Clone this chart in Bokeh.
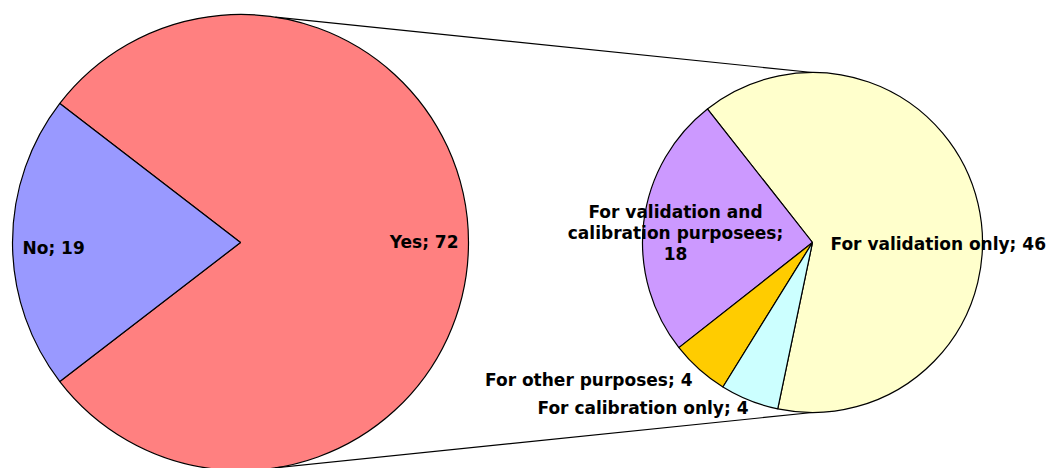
import math
from bokeh.plotting import figure
from bokeh.models import Range1d
from bokeh.core.properties import value
from bokeh.embed import file_html
from bokeh.resources import INLINE

# ---- data ----
main_categories = ["Yes", "No"]
main_values = [72, 19]
main_colors = ["#FF8080", "#9999FF"]

sub_categories = ["For validation only", "For validation and\ncalibration purposees",
                  "For other purposes", "For calibration only"]
sub_values = [46, 18, 4, 4]
sub_colors = ["#FFFFCC", "#CC99FF", "#FFCC00", "#CCFFFF"]

# ---- layout (screen pixels of the 1049x468 window) ----
W, H = 1049, 468
def Y(sy):
    return H - sy

L_CX, L_CY, L_R = 240, 242, 228
R_CX, R_CY, R_R = 812, 242, 170
R_START = math.radians(-101.8)
FONT = value("DejaVu Sans")
FS = "17px"

p = figure(width=W, height=H, x_range=Range1d(0, W), y_range=Range1d(0, H),
           output_backend="svg", toolbar_location=None, min_border=0)
p.axis.visible = False
p.grid.visible = False
p.outline_line_color = None
p.background_fill_color = "white"

# ---- left pie: "No" centred on the left ----
total = sum(main_values)
no_ang = main_values[1] / total * 2 * math.pi
no_start = math.pi - no_ang / 2
no_end = math.pi + no_ang / 2
p.wedge(x=[L_CX], y=[Y(L_CY)], radius=L_R, start_angle=[no_end],
        end_angle=[no_start + 2 * math.pi], direction="anticlock",
        fill_color=main_colors[0], line_color="black", line_width=1.2)
p.wedge(x=[L_CX], y=[Y(L_CY)], radius=L_R, start_angle=[no_start],
        end_angle=[no_end], direction="anticlock",
        fill_color=main_colors[1], line_color="black", line_width=1.2)

# ---- right pie ----
sub_total = sum(sub_values)
starts, ends = [], []
a = R_START
for v in sub_values:
    starts.append(a)
    a += v / sub_total * 2 * math.pi
    ends.append(a)
p.wedge(x=[R_CX] * 4, y=[Y(R_CY)] * 4, radius=R_R, start_angle=starts, end_angle=ends,
        direction="anticlock", fill_color=sub_colors, line_color="black", line_width=1.2)

# ---- connector lines ----
t = math.radians(81.2)
lx, ly = L_CX + L_R * math.cos(t), L_CY - L_R * math.sin(t)
p.line(x=[lx, R_CX], y=[Y(ly), Y(R_CY - R_R)], line_color="black", line_width=1.2)
p.line(x=[lx, R_CX], y=[Y(2 * L_CY - ly), Y(R_CY + R_R)], line_color="black", line_width=1.2)

# ---- labels ----
def lab(x, y, txt, align):
    p.text(x=[x], y=[Y(y)], text=[txt], text_font=FONT, text_font_style="bold",
           text_font_size=FS, text_align=align, text_baseline="middle",
           text_color="black", text_line_height=1.05)

lab(458, 241, f"{main_categories[0]}; {main_values[0]}", "right")
lab(22, 247, f"{main_categories[1]}; {main_values[1]}", "left")
lab(830, 243, f"{sub_categories[0]}; {sub_values[0]}", "left")
lab(675, 232, f"{sub_categories[1]};\n{sub_values[1]}", "center")
lab(692, 379, f"{sub_categories[2]}; {sub_values[2]}", "right")
lab(748, 407, f"{sub_categories[3]}; {sub_values[3]}", "right")

open("out.html", "w").write(file_html(p, INLINE))
